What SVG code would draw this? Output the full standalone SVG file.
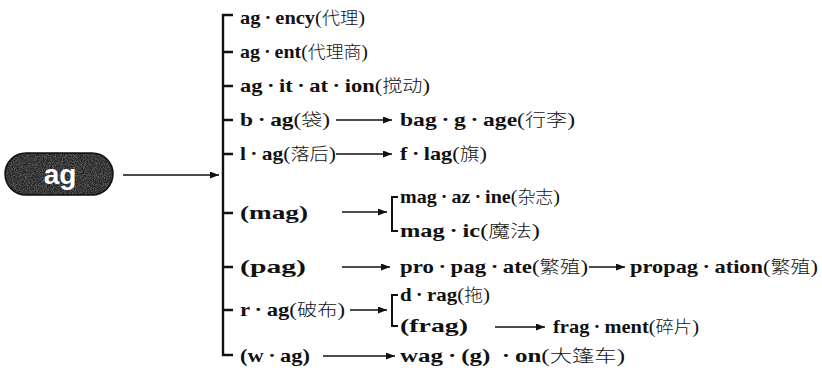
<svg xmlns="http://www.w3.org/2000/svg" width="822" height="382" viewBox="0 0 822 382">
<style>
.t{font-family:"Liberation Serif","Times New Roman",serif;font-weight:bold;font-size:19px;fill:#111}
.c{font-family:"Noto Sans CJK SC",sans-serif;font-weight:300;font-size:17px}
.p{font-weight:normal}
.br{stroke:#111;stroke-width:2.4;fill:none}
.sb{stroke:#111;stroke-width:2;fill:none}
.ar{stroke:#111;stroke-width:1.6;fill:none;marker-end:url(#ah)}
</style>
<defs>
<marker id="ah" markerUnits="userSpaceOnUse" markerWidth="9" markerHeight="7" refX="9" refY="3.5" orient="auto">
<path d="M0,0 L9,3.5 L0,7 z" fill="#111"/>
</marker>
<filter id="sp" x="0" y="0" width="1" height="1">
<feTurbulence type="fractalNoise" baseFrequency="1.1" numOctaves="1" seed="4"/>
<feColorMatrix type="matrix" values="0 0 0 0 0.75  0 0 0 0 0.75  0 0 0 0 0.75  0 0 0 -3 1.85"/>
<feComposite in2="SourceGraphic" operator="in"/>
</filter>
</defs>
<rect width="822" height="382" fill="#fff"/>

<g id="root">
<rect x="5" y="153" width="108" height="42" rx="21" fill="#262626" stroke="#111" stroke-width="1.5"/>
<rect x="6" y="154" width="106" height="40" rx="20" fill="#000" filter="url(#sp)" opacity="0.3"/>
<text x="60" y="184" text-anchor="middle" font-family="Liberation Sans, Arial, sans-serif" font-weight="bold" font-size="28" fill="#fff">ag</text>
</g>

<g id="connectors">
<line class="ar" x1="123" y1="175" x2="219" y2="175"/>
<path class="br" d="M233,15 H223 V355 H233"/>
<path class="br" d="M223,52 H233 M223,86 H233 M223,120 H233 M223,154 H233 M223,213 H233 M223,267 H233 M223,310 H233"/>
<line class="ar" x1="336" y1="120" x2="392" y2="120"/>
<line class="ar" x1="336" y1="154" x2="392" y2="154"/>
<line class="ar" x1="342" y1="212" x2="387" y2="212"/>
<path class="sb" d="M398,197 H392 V231 H398"/>
<line class="ar" x1="342" y1="267" x2="390" y2="267"/>
<line class="ar" x1="589" y1="267" x2="625" y2="267"/>
<line class="ar" x1="350" y1="310" x2="387" y2="310"/>
<path class="sb" d="M398,295 H392 V326 H398"/>
<line class="ar" x1="495" y1="327" x2="545" y2="327"/>
<line class="ar" x1="323" y1="356" x2="395" y2="356"/>
</g>

<g id="agency"><text class="t" x="240" y="24" textLength="125" lengthAdjust="spacingAndGlyphs">ag&#8201;·&#8201;ency<tspan class="p">(</tspan><tspan class="c">代理</tspan><tspan class="p">)</tspan></text></g>
<g id="agent"><text class="t" x="240" y="58" textLength="128" lengthAdjust="spacingAndGlyphs">ag&#8201;·&#8201;ent<tspan class="p">(</tspan><tspan class="c">代理商</tspan><tspan class="p">)</tspan></text></g>
<g id="agitation"><text class="t" x="240" y="92" textLength="190" lengthAdjust="spacingAndGlyphs">ag&#8201;·&#8201;it&#8201;·&#8201;at&#8201;·&#8201;ion<tspan class="p">(</tspan><tspan class="c">搅动</tspan><tspan class="p">)</tspan></text></g>
<g id="bag"><text class="t" x="240" y="126" textLength="90" lengthAdjust="spacingAndGlyphs">b&#8201;·&#8201;ag<tspan class="p">(</tspan><tspan class="c">袋</tspan><tspan class="p">)</tspan></text></g>
<g id="baggage"><text class="t" x="400" y="126" textLength="175" lengthAdjust="spacingAndGlyphs">bag&#8201;·&#8201;g&#8201;·&#8201;age<tspan class="p">(</tspan><tspan class="c">行李</tspan><tspan class="p">)</tspan></text></g>
<g id="lag"><text class="t" x="240" y="160" textLength="96" lengthAdjust="spacingAndGlyphs">l&#8201;·&#8201;ag<tspan class="p">(</tspan><tspan class="c">落后</tspan><tspan class="p">)</tspan></text></g>
<g id="flag"><text class="t" x="400" y="160" textLength="87" lengthAdjust="spacingAndGlyphs">f&#8201;·&#8201;lag<tspan class="p">(</tspan><tspan class="c">旗</tspan><tspan class="p">)</tspan></text></g>
<g id="mag"><text class="t" x="240" y="219" textLength="68" lengthAdjust="spacingAndGlyphs">(mag)</text></g>
<g id="magazine"><text class="t" x="400" y="203" textLength="160" lengthAdjust="spacingAndGlyphs">mag&#8201;·&#8201;az&#8201;·&#8201;ine<tspan class="p">(</tspan><tspan class="c">杂志</tspan><tspan class="p">)</tspan></text></g>
<g id="magic"><text class="t" x="400" y="237" textLength="140" lengthAdjust="spacingAndGlyphs">mag&#8201;·&#8201;ic<tspan class="p">(</tspan><tspan class="c">魔法</tspan><tspan class="p">)</tspan></text></g>
<g id="pag"><text class="t" x="240" y="273" textLength="66" lengthAdjust="spacingAndGlyphs">(pag)</text></g>
<g id="propagate"><text class="t" x="400" y="273" textLength="188" lengthAdjust="spacingAndGlyphs">pro&#8201;·&#8201;pag&#8201;·&#8201;ate<tspan class="p">(</tspan><tspan class="c">繁殖</tspan><tspan class="p">)</tspan></text></g>
<g id="propagation"><text class="t" x="630" y="273" textLength="188" lengthAdjust="spacingAndGlyphs">propag&#8201;·&#8201;ation<tspan class="p">(</tspan><tspan class="c">繁殖</tspan><tspan class="p">)</tspan></text></g>
<g id="rag"><text class="t" x="240" y="316" textLength="105" lengthAdjust="spacingAndGlyphs">r&#8201;·&#8201;ag<tspan class="p">(</tspan><tspan class="c">破布</tspan><tspan class="p">)</tspan></text></g>
<g id="drag"><text class="t" x="400" y="301" textLength="90" lengthAdjust="spacingAndGlyphs">d&#8201;·&#8201;rag<tspan class="p">(</tspan><tspan class="c">拖</tspan><tspan class="p">)</tspan></text></g>
<g id="frag"><text class="t" x="400" y="332" textLength="68" lengthAdjust="spacingAndGlyphs">(frag)</text></g>
<g id="fragment"><text class="t" x="553" y="333" textLength="146" lengthAdjust="spacingAndGlyphs">frag&#8201;·&#8201;ment<tspan class="p">(</tspan><tspan class="c">碎片</tspan><tspan class="p">)</tspan></text></g>
<g id="wag"><text class="t" x="240" y="362" textLength="70" lengthAdjust="spacingAndGlyphs">(w&#8201;·&#8201;ag)</text></g>
<g id="wagon"><text class="t" x="400" y="362" textLength="225" lengthAdjust="spacingAndGlyphs">wag&#8201;·&#8201;(g) &#8201;·&#8201;on<tspan class="p">(</tspan><tspan class="c">大篷车</tspan><tspan class="p">)</tspan></text></g>
</svg>
